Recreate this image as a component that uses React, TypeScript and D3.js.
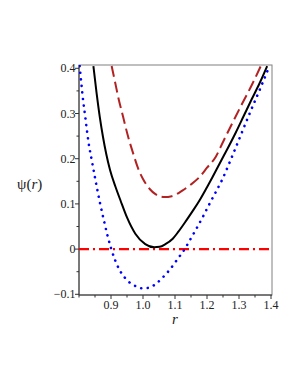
import React from 'react'
import * as d3 from 'd3'

// values
const blackR = [0.845, 0.855, 0.865, 0.875, 0.885, 0.897, 0.914, 0.93, 0.95, 0.976, 1.007, 1.035, 1.052, 1.07, 1.093, 1.11, 1.135, 1.155, 1.176, 1.2, 1.217, 1.24, 1.264, 1.29, 1.315, 1.34, 1.365, 1.388]
const blackPsi = [0.405, 0.345, 0.292, 0.248, 0.211, 0.175, 0.138, 0.107, 0.07, 0.034, 0.011, 0.004, 0.005, 0.011, 0.023, 0.038, 0.063, 0.084, 0.107, 0.137, 0.159, 0.19, 0.222, 0.258, 0.295, 0.332, 0.368, 0.405]

const redR = [0.902, 0.912, 0.922, 0.938, 0.953, 0.97, 0.985, 1.0, 1.021, 1.04, 1.067, 1.09, 1.124, 1.15, 1.176, 1.2, 1.228, 1.25, 1.28, 1.31, 1.34, 1.368]
const redPsi = [0.405, 0.372, 0.338, 0.292, 0.25, 0.21, 0.178, 0.155, 0.133, 0.121, 0.115, 0.117, 0.13, 0.143, 0.159, 0.18, 0.205, 0.237, 0.28, 0.322, 0.363, 0.405]

const blueR = [0.802, 0.808, 0.813, 0.819, 0.824, 0.83, 0.839, 0.85, 0.865, 0.877, 0.888, 0.9, 0.912, 0.925, 0.943, 0.96, 0.98, 1.0, 1.02, 1.04, 1.06, 1.083, 1.109, 1.133, 1.145, 1.166, 1.186, 1.207, 1.228, 1.249, 1.269, 1.29, 1.332, 1.368, 1.395]
const bluePsi = [0.405, 0.362, 0.328, 0.296, 0.267, 0.235, 0.2, 0.158, 0.104, 0.066, 0.033, 0.002, -0.023, -0.044, -0.063, -0.075, -0.083, -0.087, -0.085, -0.077, -0.064, -0.046, -0.021, 0.003, 0.018, 0.044, 0.07, 0.099, 0.127, 0.156, 0.189, 0.225, 0.298, 0.358, 0.405]

const zeroR = [0.8, 1.4]
const zeroPsi = [0, 0]

const xMajor = [0.9, 1.0, 1.1, 1.2, 1.3, 1.4]
const xMinor = [0.8, 0.85, 0.95, 1.05, 1.15, 1.25, 1.35]
const yMajor = [-0.1, 0, 0.1, 0.2, 0.3, 0.4]
const yMinor = [-0.05, 0.05, 0.15, 0.25, 0.35]

const left = 79, right = 272, top = 65, bottom = 295

const x = d3.scaleLinear().domain([0.8, 1.4]).range([79, 271])
const y = d3.scaleLinear().domain([-0.1, 0.4]).range([294.3, 68.3])

const line = d3.line<[number, number]>()
  .x(d => x(d[0]))
  .y(d => y(d[1]))
  .curve(d3.curveMonotoneX)

const pts = (rs: number[], ps: number[]) => rs.map((r, i) => [r, ps[i]] as [number, number])

export default function App() {
  const font = 'Liberation Serif, Times New Roman, serif'
  return (
    <svg width={300} height={388} style={{ position: 'absolute', left: 0, top: 0 }}>
      <defs>
        <clipPath id="plot">
          <rect x={left} y={top} width={right - left} height={bottom - top} />
        </clipPath>
      </defs>
      <rect x={0} y={0} width={300} height={388} fill="#fff" />
      <rect x={left} y={top} width={right - left} height={bottom - top} fill="none" stroke="#808080" strokeWidth={1} />
      <line x1={left} x2={left} y1={top} y2={bottom} stroke="#333" />
      <line x1={left} x2={right} y1={bottom} y2={bottom} stroke="#333" />

      {xMajor.map(t => (
        <g key={'xm' + t}>
          <line x1={x(t)} x2={x(t)} y1={bottom} y2={bottom + 4} stroke="#333" />
          <text x={x(t)} y={309} fontFamily={font} fontSize={12} textAnchor="middle" fill="#222">{t.toFixed(1)}</text>
        </g>
      ))}
      {xMinor.map(t => (
        <line key={'xn' + t} x1={x(t)} x2={x(t)} y1={bottom} y2={bottom + 2.5} stroke="#333" />
      ))}
      {yMajor.map(t => (
        <g key={'ym' + t}>
          <line x1={left - 4} x2={left} y1={y(t)} y2={y(t)} stroke="#333" />
          <text x={left - 3.5} y={y(t) + 4} fontFamily={font} fontSize={12} textAnchor="end" fill="#222">
            {t === 0 ? '0' : t < 0 ? '\u2212' + Math.abs(t).toFixed(1) : t.toFixed(1)}
          </text>
        </g>
      ))}
      {yMinor.map(t => (
        <line key={'yn' + t} x1={left - 2.5} x2={left} y1={y(t)} y2={y(t)} stroke="#333" />
      ))}

      <g clipPath="url(#plot)" fill="none">
        <path d={line(pts(zeroR, zeroPsi)) || ''} stroke="#ff0000" strokeWidth={2.2} strokeDasharray="10,4,2,4" />
        <path d={line(pts(blueR, bluePsi)) || ''} stroke="#0000ff" strokeWidth={2.6} strokeDasharray="0.1,6.5" strokeLinecap="round" />
        <path d={line(pts(redR, redPsi)) || ''} stroke="#b22222" strokeWidth={2} strokeDasharray="11,5" />
        <path d={line(pts(blackR, blackPsi)) || ''} stroke="#000" strokeWidth={2} />
      </g>

      <text x={175} y={324} fontFamily={font} fontSize={15} fontStyle="italic" textAnchor="middle" fill="#222">r</text>
      <text x={17} y={189} fontFamily={font} fontSize={15} fill="#222">
        ψ<tspan>(</tspan><tspan fontStyle="italic">r</tspan><tspan>)</tspan>
      </text>
    </svg>
  )
}
